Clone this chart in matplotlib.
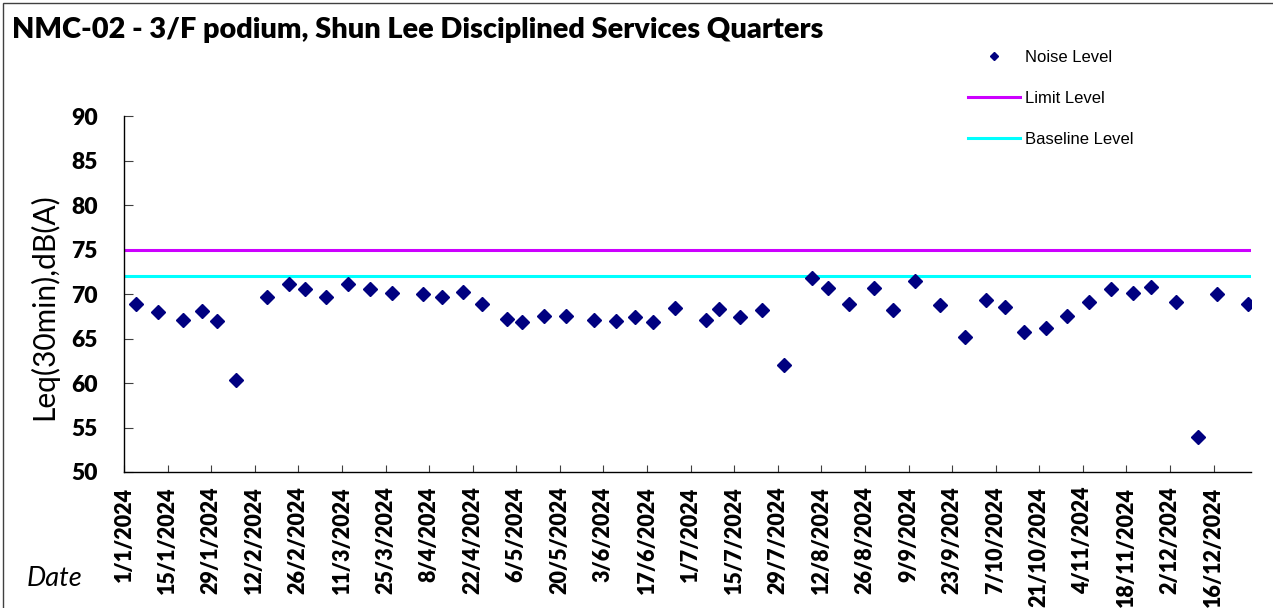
import matplotlib
matplotlib.use("Agg")
import matplotlib.pyplot as plt
import matplotlib.dates as mdates
from matplotlib.lines import Line2D
from matplotlib.patches import Rectangle
from matplotlib.ticker import FuncFormatter, MultipleLocator
import pandas as pd

# ---------------- data ----------------
title = "NMC-02 - 3/F podium, Shun Lee Disciplined Services Quarters"
dates = [
    "2024-01-05", "2024-01-12", "2024-01-20", "2024-01-26", "2024-01-31",
    "2024-02-06", "2024-02-16", "2024-02-23", "2024-02-28", "2024-03-06",
    "2024-03-13", "2024-03-20", "2024-03-27", "2024-04-06", "2024-04-12",
    "2024-04-19", "2024-04-25", "2024-05-03", "2024-05-08", "2024-05-15",
    "2024-05-22", "2024-05-31", "2024-06-07", "2024-06-13", "2024-06-19",
    "2024-06-26", "2024-07-06", "2024-07-10", "2024-07-17", "2024-07-24",
    "2024-07-31", "2024-08-09", "2024-08-14", "2024-08-21", "2024-08-29",
    "2024-09-04", "2024-09-11", "2024-09-19", "2024-09-27", "2024-10-04",
    "2024-10-10", "2024-10-16", "2024-10-23", "2024-10-30", "2024-11-06",
    "2024-11-13", "2024-11-20", "2024-11-26", "2024-12-04", "2024-12-11",
    "2024-12-17", "2024-12-27",
]
noise = [
    68.9, 68.0, 67.1, 68.1, 67.0,
    60.4, 69.7, 71.1, 70.6, 69.7,
    71.1, 70.6, 70.1, 70.0, 69.7,
    70.2, 68.9, 67.2, 66.9, 67.6,
    67.5, 67.1, 67.0, 67.4, 66.9,
    68.5, 67.1, 68.3, 67.4, 68.2,
    62.0, 71.8, 70.7, 68.9, 70.7,
    68.2, 71.5, 68.8, 65.2, 69.4,
    68.6, 65.7, 66.2, 67.5, 69.1,
    70.6, 70.1, 70.8, 69.1, 53.9,
    70.0, 68.9,
]
limit_level = [75]
baseline_level = [72]
x_start, x_end = "2024-01-01", "2024-12-28"
tick_start, tick_end = "2024-01-01", "2024-12-16"
y_min, y_max, y_step = 50, 90, 5
series_labels = ["Noise Level", "Limit Level", "Baseline Level"]

# ---------------- styling ----------------
W, H = 1273, 608
fig = plt.figure(figsize=(W / 100, H / 100), dpi=100)
fig.patch.set_facecolor("white")

ax = fig.add_axes([124 / W, 1 - 472 / H, (1251 - 124) / W, (472 - 116.5) / H])

xd = pd.to_datetime(dates)
ax.plot(xd, noise, linestyle="none", marker="D", markersize=7.2,
        color="#000080", markeredgecolor="#000080", zorder=3)
ax.axhline(limit_level[0], color="#CC00FF", linewidth=2.2, zorder=2)
ax.axhline(baseline_level[0], color="#00FFFF", linewidth=2.2, zorder=2)

ax.set_xlim(pd.Timestamp(x_start), pd.Timestamp(x_end))
ax.set_ylim(y_min, y_max)
ax.yaxis.set_major_locator(MultipleLocator(y_step))
ticks = pd.date_range(tick_start, tick_end, freq="14D")
ax.set_xticks(ticks)

def fmt(v, pos):
    d = mdates.num2date(v)
    return f"{d.day}/{d.month}/{d.year}"

ax.xaxis.set_major_formatter(FuncFormatter(fmt))

for s in ["top", "right"]:
    ax.spines[s].set_visible(False)
for s in ["left", "bottom"]:
    ax.spines[s].set_color("black")
    ax.spines[s].set_linewidth(1.0)

ax.tick_params(axis="y", direction="in", length=6.5, width=0.8, color="#404040",
               pad=19, labelsize=16.5)
ax.tick_params(axis="x", direction="in", length=5, width=0.8, color="#404040",
               pad=10.5, labelsize=15.5, labelrotation=90)
for lab in ax.get_yticklabels():
    lab.set_fontfamily("Lato")
    lab.set_fontweight("heavy")
for lab in ax.get_xticklabels():
    lab.set_fontfamily("Lato")
    lab.set_fontweight("heavy")
    lab.set_va("top")

# title and axis titles
fig.text(12 / W, 1 - 38 / H, title, fontfamily="Lato", fontweight="heavy",
         fontsize=20.8, ha="left", va="baseline")
fig.text(44 / W, 1 - 307 / H, "Leq(30min),dB(A)", fontfamily="Lato",
         fontsize=21.5, rotation=90, ha="center", va="center")
fig.text(55 / W, 1 - 579 / H, "Date", fontfamily="Lato", fontstyle="italic",
         fontsize=19.5, ha="center", va="center")

# legend
handles = [
    Line2D([], [], linestyle="none", marker="D", markersize=4.4,
           color="#000080"),
    Line2D([], [], color="#CC00FF", linewidth=2.2),
    Line2D([], [], color="#00FFFF", linewidth=2.2),
]
leg = fig.legend(handles, series_labels, loc="upper left",
                 bbox_to_anchor=(968 / W, 1 - 50 / H), frameon=False,
                 borderpad=0, borderaxespad=0, handlelength=3.15,
                 handletextpad=0.3, labelspacing=1.57,
                 prop={"family": "Liberation Sans", "size": 12})

# chart border
fig.add_artist(Rectangle((3 / W, -0.05), 1.2, 1 - 3 / H + 0.05,
                         transform=fig.transFigure, fill=False,
                         edgecolor="#404040", linewidth=1.0))

fig.savefig("out.png", dpi=100)
